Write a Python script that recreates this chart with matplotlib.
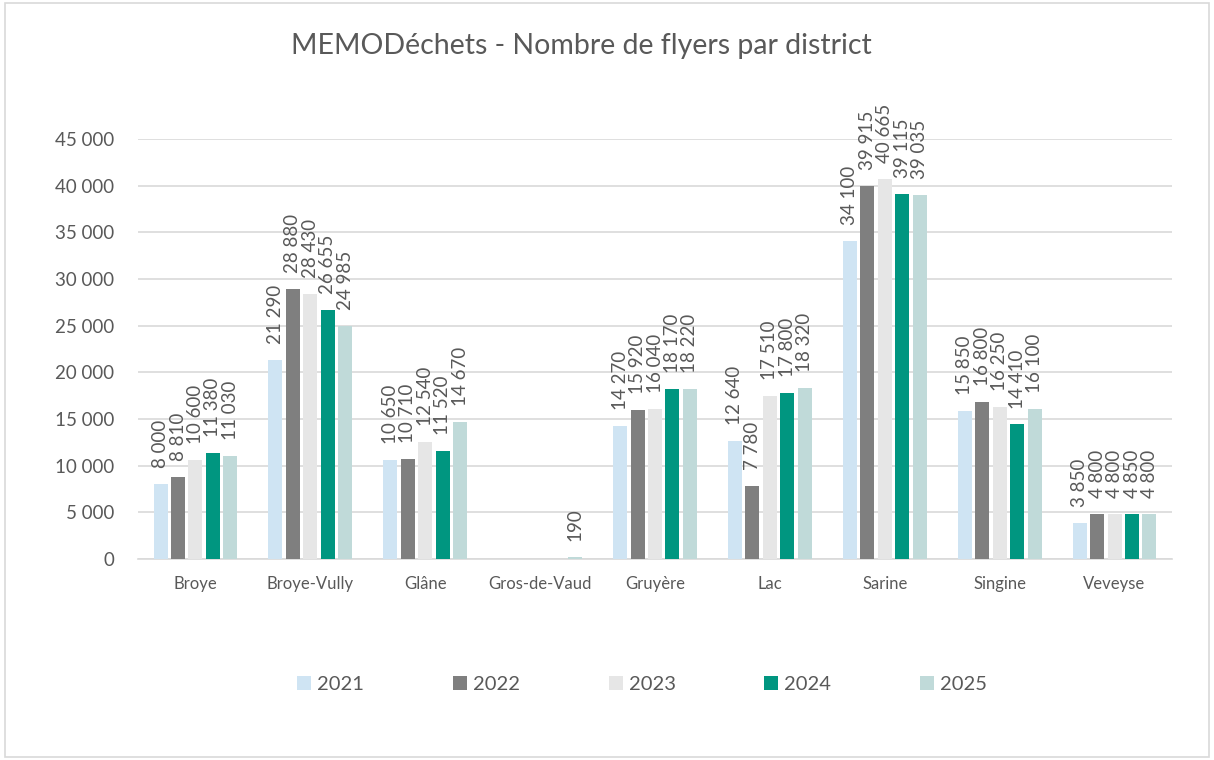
import numpy as np
import matplotlib.pyplot as plt
from matplotlib.patches import Rectangle
import matplotlib
matplotlib.rcParams['font.family'] = ['Lato', 'DejaVu Sans']

districts = ['Broye', 'Broye-Vully', 'Glâne', 'Gros-de-Vaud', 'Gruyère',
             'Lac', 'Sarine', 'Singine', 'Veveyse']
years = ['2021', '2022', '2023', '2024', '2025']
v2021 = [8000, 21290, 10650, None, 14270, 12640, 34100, 15850, 3850]
v2022 = [8810, 28880, 10710, None, 15920, 7780, 39915, 16800, 4800]
v2023 = [10600, 28430, 12540, None, 16040, 17510, 40665, 16250, 4800]
v2024 = [11380, 26655, 11520, None, 18170, 17800, 39115, 14410, 4850]
v2025 = [11030, 24985, 14670, 190, 18220, 18320, 39035, 16100, 4800]
series = [v2021, v2022, v2023, v2024, v2025]
colors = ['#CFE4F3', '#7F7F7F', '#E6E6E6', '#009680', '#C0DAD9']

text_col = '#595959'
grid_col = '#D9D9D9'

def fmt(v):
    return f'{v:,}'.replace(',', ' ')

fig = plt.figure(figsize=(12.14, 7.6), dpi=100)
fig.patch.set_facecolor('white')
fig.patches.append(Rectangle((0.004, 0.004), 0.992, 0.992, transform=fig.transFigure,
                             fill=False, edgecolor=grid_col, linewidth=1.2))
ax = fig.add_axes([0.1137, 0.2645, 0.8517, 0.5526])

x = np.arange(len(districts))
slot = 0.152
barw = 0.122
for i, (vals, c, yr) in enumerate(zip(series, colors, years)):
    off = (i - 2) * slot
    xs = [xi + off for xi, v in zip(x, vals) if v is not None]
    hs = [v for v in vals if v is not None]
    ax.bar(xs, hs, width=barw, color=c, label=yr, zorder=3)
    for xx, h in zip(xs, hs):
        ax.annotate(fmt(h), xy=(xx, h), xytext=(0, 11.5), textcoords='offset points',
                    rotation=90, ha='center', va='bottom', fontsize=13.5,
                    color=text_col, annotation_clip=False)

ax.set_xlim(-0.5, len(districts) - 0.5)
ax.set_ylim(0, 45000)
ax.set_yticks(np.arange(0, 45001, 5000))
ax.set_yticklabels([fmt(v) for v in range(0, 45001, 5000)])
ax.set_xticks(x)
ax.set_xticklabels(districts)
ax.tick_params(axis='y', length=0, pad=17, labelsize=13.5, labelcolor=text_col)
ax.tick_params(axis='x', length=0, pad=12, labelsize=12, labelcolor=text_col)
ax.grid(axis='y', color=grid_col, linewidth=1.2, zorder=0)
for s in ['top', 'right', 'left']:
    ax.spines[s].set_visible(False)
ax.spines['bottom'].set_color(grid_col)
ax.spines['bottom'].set_linewidth(1.2)

fig.text(0.479, 0.94, 'MEMODéchets - Nombre de flyers par district', ha='center',
         va='center', fontsize=20.5, color=text_col)

leg = fig.legend(loc='center', bbox_to_anchor=(0.529, 0.099), ncol=5, frameon=False,
                 fontsize=14.5, handlelength=0.7, handleheight=0.7, handletextpad=0.3,
                 columnspacing=4.4, labelcolor=text_col)

plt.savefig('out.png', dpi=100)
plt.close()
